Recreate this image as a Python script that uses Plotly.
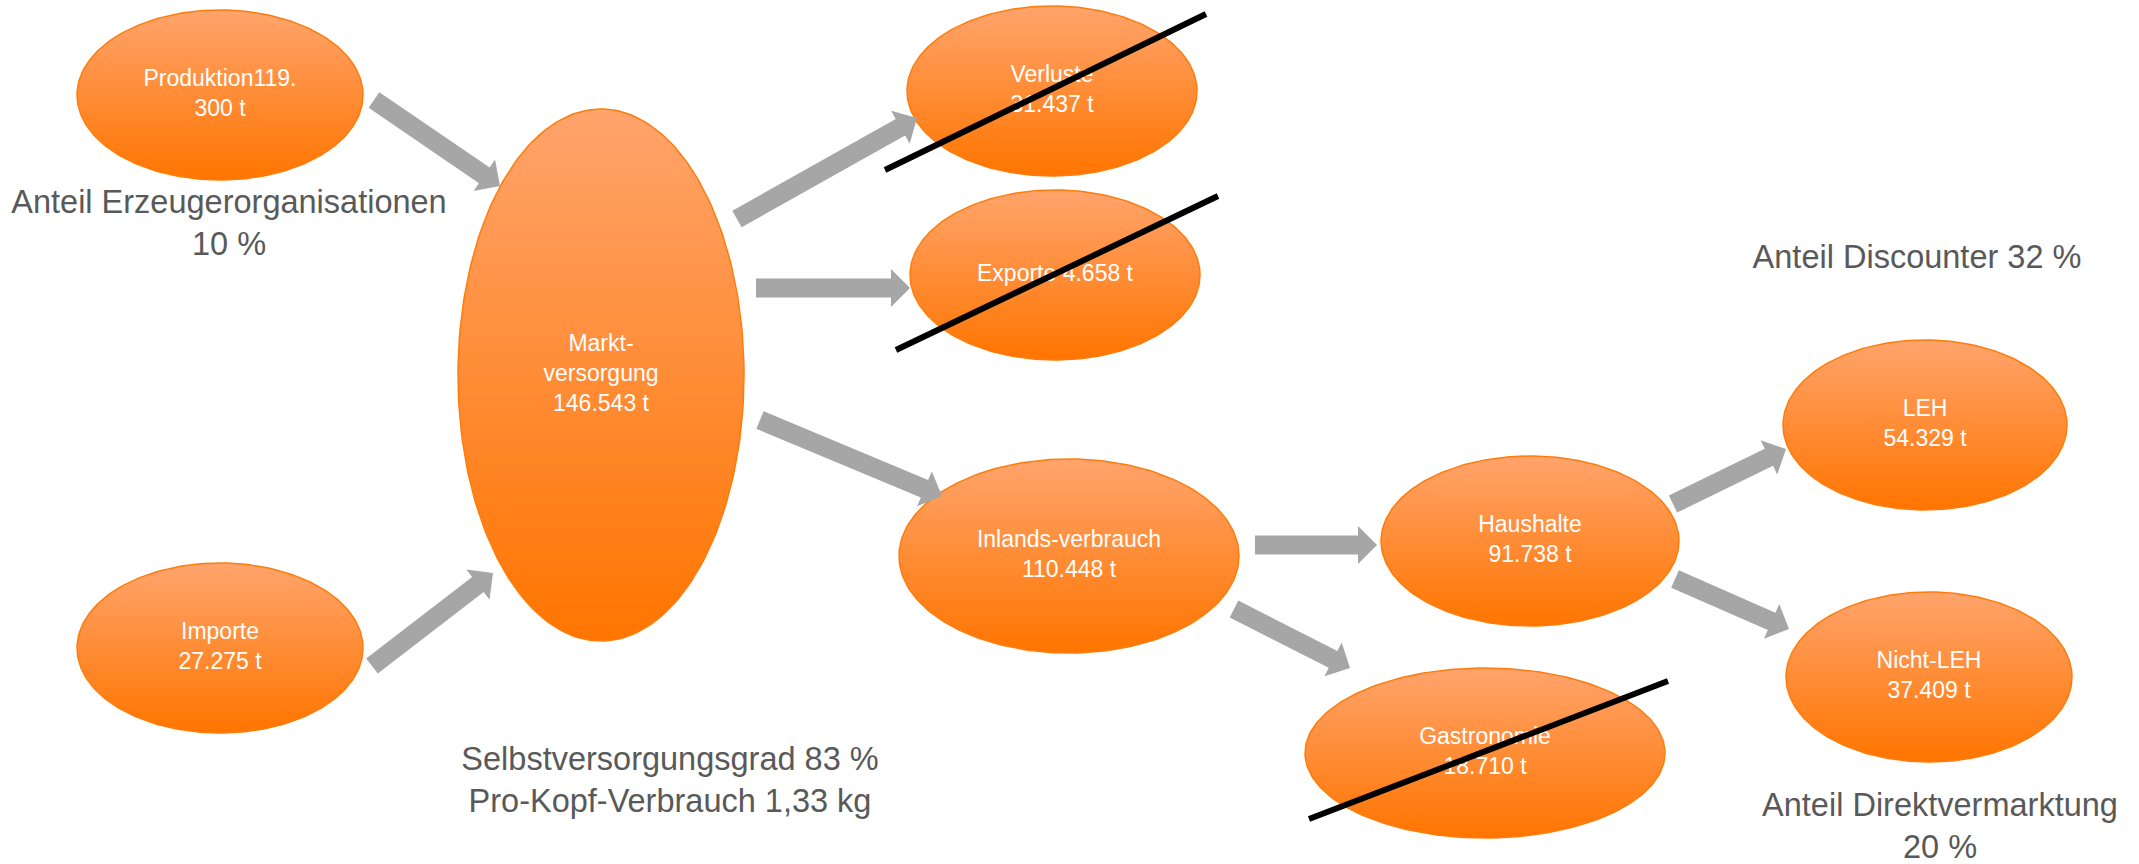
import numpy as np
import plotly.graph_objects as go

W, H = 2139, 864

# ---- data ----
nodes = ["Produktion", "Importe", "Marktversorgung", "Verluste", "Exporte",
         "Inlandsverbrauch", "Haushalte", "Gastronomie", "LEH", "Nicht-LEH"]
node_labels = ["Produktion119.<br>300 t", "Importe<br>27.275 t",
               "Markt-<br>versorgung<br>146.543 t", "Verluste<br>31.437 t",
               "Exporte 4.658 t", "Inlands-verbrauch<br>110.448 t",
               "Haushalte<br>91.738 t", "Gastronomie<br>18.710 t",
               "LEH<br>54.329 t", "Nicht-LEH<br>37.409 t"]
flows_from = ["Produktion", "Importe", "Marktversorgung", "Marktversorgung",
              "Marktversorgung", "Inlandsverbrauch", "Inlandsverbrauch",
              "Haushalte", "Haushalte"]
flows_to = ["Marktversorgung", "Marktversorgung", "Verluste", "Exporte",
            "Inlandsverbrauch", "Haushalte", "Gastronomie", "LEH", "Nicht-LEH"]
struck_nodes = ["Verluste", "Exporte", "Gastronomie"]
share_texts = ["Anteil Erzeugerorganisationen<br>10 %",
               "Anteil Discounter 32 %",
               "Selbstversorgungsgrad 83 %<br>Pro-Kopf-Verbrauch 1,33 kg",
               "Anteil Direktvermarktung<br>20 %"]

# ---- layout geometry (pixel positions) ----
node_geom = {
    "Produktion": (220, 95, 143, 85),
    "Importe": (220, 648, 143, 85),
    "Marktversorgung": (601, 375, 143, 266),
    "Verluste": (1052, 91, 145, 85),
    "Exporte": (1055, 275, 145, 85),
    "Inlandsverbrauch": (1069, 556, 170, 97),
    "Haushalte": (1530, 541, 149, 85),
    "Gastronomie": (1485, 753, 180, 85),
    "LEH": (1925, 425, 142, 85),
    "Nicht-LEH": (1929, 677, 143, 85),
}
arrow_geom = [
    ((374, 100), (500, 186)),
    ((372, 666), (493, 573)),
    ((737, 219), (917, 118)),
    ((756, 288), (910, 288)),
    ((760, 420), (942, 496)),
    ((1255, 545), (1377, 545)),
    ((1234, 609), (1350, 668)),
    ((1673, 504), (1786, 449)),
    ((1675, 579), (1789, 629)),
]
strike_geom = {
    "Verluste": ((885, 170), (1206, 14)),
    "Exporte": ((896, 350), (1218, 196)),
    "Gastronomie": ((1309, 819), (1668, 681)),
}
share_pos = [(229, 226), (1917, 260), (670, 783), (1940, 829)]

FONT = "Liberation Sans, Arial, sans-serif"
LIGHT = "#FFA46C"
DARK = "#FF7500"
EDGE = "#FF7C0A"
GREY = "#A6A6A6"
TXT = "#595959"
SHAFT, HEADW, HEADL = 19, 38, 19

fig = go.Figure()

# ellipses
t = np.linspace(0, 2 * np.pi, 240)
for name in nodes:
    cx, cy, rx, ry = node_geom[name]
    fig.add_trace(go.Scatter(
        x=cx + rx * np.cos(t), y=cy + ry * np.sin(t), mode="lines",
        line=dict(color=EDGE, width=1.5), fill="toself",
        fillgradient=dict(type="vertical", colorscale=[[0, LIGHT], [1, DARK]],
                          start=cy - ry, stop=cy + ry),
        hoverinfo="skip"))

# arrows
for (x0, y0), (x1, y1) in arrow_geom:
    d = np.array([x1 - x0, y1 - y0], float)
    L = np.hypot(*d)
    u = d / L
    n = np.array([-u[1], u[0]])
    p0 = np.array([x0, y0], float)
    base = p0 + u * (L - HEADL)
    tip = np.array([x1, y1], float)
    pts = [p0 + n * SHAFT / 2, base + n * SHAFT / 2, base + n * HEADW / 2, tip,
           base - n * HEADW / 2, base - n * SHAFT / 2, p0 - n * SHAFT / 2,
           p0 + n * SHAFT / 2]
    pts = np.array(pts)
    fig.add_trace(go.Scatter(x=pts[:, 0], y=pts[:, 1], mode="lines",
                             line=dict(width=0, color=GREY), fill="toself",
                             fillcolor=GREY, hoverinfo="skip"))

# node labels
for name, lab in zip(nodes, node_labels):
    cx, cy, rx, ry = node_geom[name]
    fig.add_trace(go.Scatter(x=[cx], y=[cy], mode="text", text=[lab],
                             textposition="middle center",
                             textfont=dict(family=FONT, size=23, color="white"),
                             hoverinfo="skip"))

# strike-through lines
for name in struck_nodes:
    (x0, y0), (x1, y1) = strike_geom[name]
    fig.add_trace(go.Scatter(x=[x0, x1], y=[y0, y1], mode="lines",
                             line=dict(color="black", width=6), hoverinfo="skip"))

# share texts
for txt, (x, y) in zip(share_texts, share_pos):
    fig.add_trace(go.Scatter(x=[x], y=[y], mode="text", text=[txt],
                             textposition="middle center",
                             textfont=dict(family=FONT, size=32.5, color=TXT),
                             hoverinfo="skip"))

fig.update_layout(
    width=W, height=H, margin=dict(l=0, r=0, t=0, b=0),
    paper_bgcolor="white", plot_bgcolor="white", showlegend=False,
    xaxis=dict(range=[0, W], visible=False, fixedrange=True),
    yaxis=dict(range=[H, 0], visible=False, fixedrange=True),
)

fig.write_html("out.html", config={"displayModeBar": False},
               post_script="document.body.style.margin='0';document.body.style.overflow='hidden';")
